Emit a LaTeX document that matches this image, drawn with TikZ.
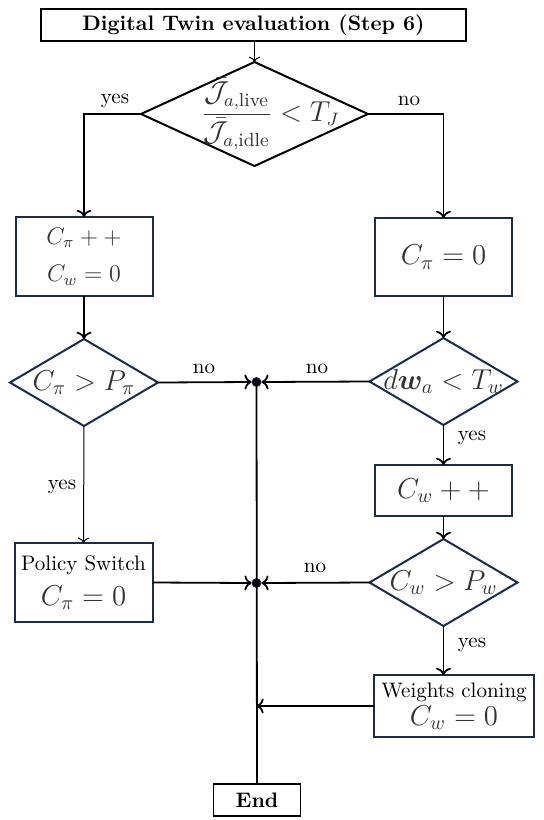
\documentclass[tikz,border=0pt]{standalone}
\usepackage{amsmath,bm}
\usetikzlibrary{shapes.geometric,arrows.meta}
\definecolor{navy}{HTML}{1B2B4B}
\definecolor{mathgray}{HTML}{333333}
\begin{document}
\begin{tikzpicture}[x=0.5pt,y=-0.5pt,
  font=\fontsize{10.5}{12.6}\selectfont,
  box/.style={draw=navy,line width=1pt,inner sep=0pt,outer sep=0pt,align=center},
  dia/.style={diamond,draw=navy,line width=1pt,inner sep=0pt,outer sep=0pt},
  blk/.style={draw=black,line width=0.9pt,inner sep=0pt,outer sep=0pt,align=center,font=\fontsize{10.5}{12.6}\selectfont\bfseries},
  conn/.style={line width=0.9pt,->},
  thinconn/.style={line width=0.5pt,->},
  lbl/.style={inner sep=0pt},
  jdot/.style={circle,fill=black,draw=navy,line width=0.4pt,inner sep=0pt,minimum size=4.5pt}
]
\useasboundingbox (0,0) rectangle (543,820);

\node[blk,minimum width=212.5pt,minimum height=16pt] (title) at (253.5,25) {Digital Twin evaluation (Step 6)};

\node[dia,draw=black,minimum width=113.5pt,minimum height=52pt,
  label={[text=mathgray,inner sep=0pt,xshift=8pt]center:\fontsize{13.5}{15}\selectfont$\dfrac{\bar{\mathcal{J}}_{a,\text{live}}}{\bar{\mathcal{J}}_{a,\text{idle}}}<T_J$}] (d1) at (254.5,114) {};

\node[box,minimum width=68.5pt,minimum height=39.5pt,text=mathgray] (l1) at (84,256.5) {\large$C_\pi++$\\[6pt]\large$C_w=0$};
\node[box,minimum width=68.5pt,minimum height=39pt,text=mathgray] (r1) at (443.5,257) {\Large$C_\pi=0$};

\node[dia,minimum width=74pt,minimum height=43.5pt,
  label={[text=mathgray,inner sep=0pt]center:\Large$C_\pi>P_\pi$}] (d2) at (84,382.5) {};
\node[dia,minimum width=74pt,minimum height=43.5pt,
  label={[text=mathgray,inner sep=0pt]center:\Large$d\bm{w}_a<T_w$}] (d3) at (443.5,381.5) {};

\node[jdot] (j1) at (256.5,382) {};

\node[box,minimum width=68.5pt,minimum height=25.5pt,text=mathgray] (cw) at (443.5,490.5) {\Large$C_w++$};

\node[dia,minimum width=74pt,minimum height=43.5pt,
  label={[text=mathgray,inner sep=0pt]center:\Large$C_w>P_w$}] (d4) at (443.5,582.5) {};

\node[jdot] (j2) at (256.5,583) {};

\node[box,minimum width=69pt,minimum height=39.5pt] (ps) at (83.5,582.5) {Policy Switch\\[5pt]{\Large\color{mathgray}$C_\pi=0$}};

\node[box,minimum width=80pt,minimum height=31pt] (wc) at (454,706) {Weights cloning\\[1.5pt]{\Large\color{mathgray}$C_w=0$}};

\node[blk,minimum width=43.5pt,minimum height=16pt] (end) at (257,800) {End};

% connectors
\draw[thinconn] (title.south -| d1.north) -- (d1.north);
\draw[conn] (d1.west) -| (l1.north);
\draw[conn] (d1.east) -| (r1.north);
\node[lbl] (yes1) at (115,101) {yes};
\node[lbl] (no1) at (409,101) {no};

\draw[conn] (l1.south) -- (d2.north);
\draw[conn] (r1.south) -- (d3.north);

\draw[conn] (d2.east) -- (j1.west);
\draw[conn] (d3.west) -- (j1.east);
\node[lbl] (no2) at (204,369) {no};
\node[lbl] (no3) at (317,369) {no};

\draw[thinconn] (d2.south) -- (ps.north);
\node[lbl] (yes2) at (62,487) {yes};

\draw[conn] (d3.south) -- (cw.north);
\node[lbl] (yes3) at (472,438) {yes};

\draw[conn] (cw.south) -- (d4.north);

\draw[conn] (ps.east) -- (j2.west);
\draw[conn] (d4.west) -- (j2.east);
\node[lbl] (no4) at (315,568) {no};

\draw[conn] (d4.south) -- (d4.south |- wc.north);
\node[lbl] (yes4) at (472,645) {yes};

\coordinate (m) at (j1 |- wc.west);
\draw[conn] (wc.west) -- (m);

\draw[line width=0.9pt] (j1.center) -- (end.north);
\end{tikzpicture}
\end{document}
